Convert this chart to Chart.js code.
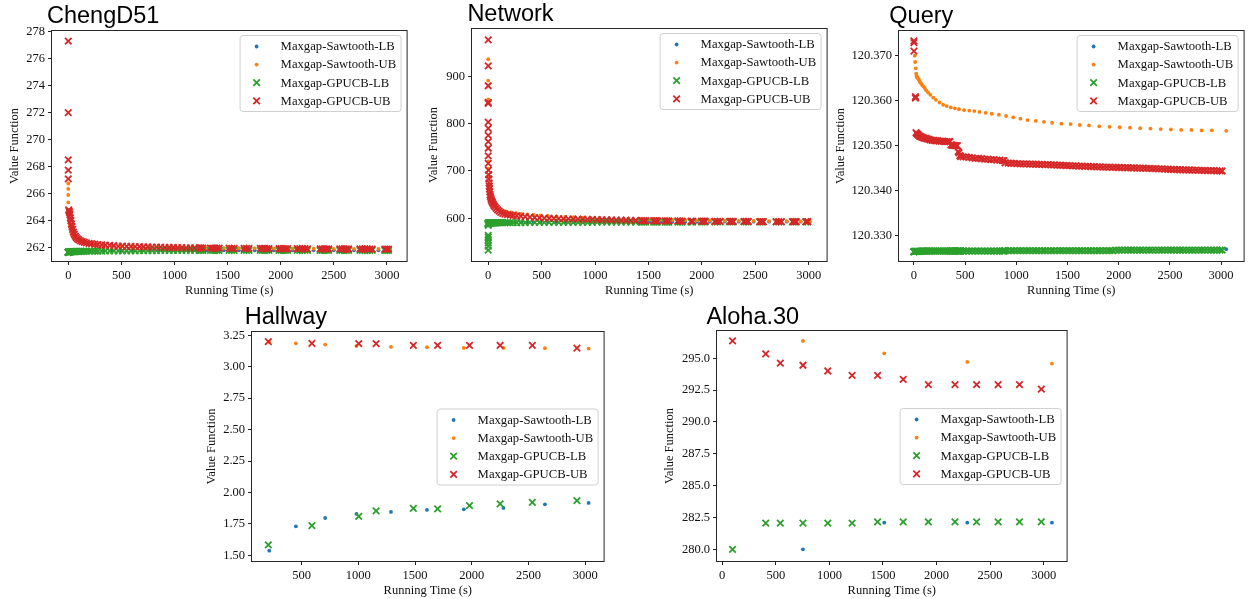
<!DOCTYPE html>
<html>
<head>
<meta charset="utf-8">
<script src="https://cdn.jsdelivr.net/npm/chart.js@4.4.1/dist/chart.umd.min.js"></script>
<style>
  html, body { margin: 0; padding: 0; background: #fff; overflow: hidden; }
  body { width: 1250px; height: 599px; position: relative; }
  .panel { position: absolute; }
</style>
</head>
<body>
<div class="panel" style="left:3px;top:0px;width:410px;height:302px"><canvas id="c1"></canvas></div>
<div class="panel" style="left:422px;top:0px;width:411px;height:302px"><canvas id="c2"></canvas></div>
<div class="panel" style="left:829px;top:0px;width:421px;height:302px"><canvas id="c3"></canvas></div>
<div class="panel" style="left:200px;top:301px;width:410px;height:301px"><canvas id="c4"></canvas></div>
<div class="panel" style="left:658px;top:300px;width:415px;height:302px"><canvas id="c5"></canvas></div>
<script>
// ---- series names ----
const seriesLabels = ['Maxgap-Sawtooth-LB', 'Maxgap-Sawtooth-UB', 'Maxgap-GPUCB-LB', 'Maxgap-GPUCB-UB'];

// ---- ChengD51 ----
const sawT1 = [0, 0, 0, 0, 0, 3, 6, 9, 12, 16, 22, 30, 42, 58, 80, 110, 150, 200, 260, 330,
    410, 500, 600, 700, 760, 850, 950, 1070, 1180, 1300, 1465, 1605, 1755, 1935, 2110, 2310, 2500, 2690, 2920, 3030];
const sawUB1 = [266.75, 266.35, 265.9, 265.35, 264.8, 264.45, 264.15, 263.95, 263.75, 263.55,
    263.3, 263.05, 262.85, 262.7, 262.57, 262.47, 262.38, 262.31, 262.25, 262.2,
    262.16, 262.12, 262.09, 262.06, 262.05, 262.03, 262.01, 262.0, 261.99, 261.98,
    261.97, 261.96, 261.95, 261.94, 261.93, 261.92, 261.91, 261.91, 261.9, 261.9];
const sawLB1 = [261.64, 261.65, 261.66, 261.67, 261.68, 261.69, 261.7, 261.7, 261.71, 261.71,
    261.72, 261.72, 261.73, 261.73, 261.74, 261.74, 261.75, 261.75, 261.76, 261.76,
    261.77, 261.77, 261.78, 261.78, 261.78, 261.79, 261.79, 261.79, 261.8, 261.8,
    261.8, 261.8, 261.8, 261.8, 261.8, 261.8, 261.8, 261.8, 261.8, 261.8];
const gpT1 = [0, 0, 0, 0, 0, 4, 8, 12, 16, 20, 25, 30, 36, 42, 49, 57, 66, 76, 87, 100,
    115, 132, 150, 170, 195, 220, 250, 280, 315, 350, 390, 430, 470, 510, 550, 590, 630, 670, 710, 750,
    790, 830, 870, 910, 950, 990, 1030, 1070, 1110, 1150, 1190,
    1233, 1250, 1267, 1339, 1359, 1379, 1400, 1420, 1515, 1538, 1561, 1655, 1678, 1701,
    1808, 1828, 1848, 1868, 1889, 1984, 2004, 2024, 2044, 2064, 2155, 2179, 2203, 2228, 2252,
    2371, 2391, 2411, 2431, 2451, 2556, 2577, 2598, 2618, 2639, 2746, 2769, 2792, 2815, 2838, 2861,
    2980, 2997, 3014];
const gpUB1 = [277.3, 272.0, 268.5, 267.75, 267.1, 264.8, 264.7, 264.6, 264.45, 264.2,
    264.0, 263.75, 263.55, 263.35, 263.15, 263.0, 262.85, 262.75, 262.65, 262.58,
    262.5, 262.45, 262.4, 262.36, 262.32, 262.29, 262.26, 262.23, 262.2, 262.18,
    262.16, 262.14, 262.12, 262.11, 262.1, 262.09, 262.08, 262.07, 262.06, 262.05,
    262.04, 262.03, 262.03, 262.02, 262.01, 262.01, 262.0, 262.0, 261.99, 261.99, 261.98,
    261.98, 261.98, 261.97, 261.97, 261.97, 261.97, 261.96, 261.96, 261.96, 261.95, 261.95, 261.95, 261.95, 261.94,
    261.94, 261.94, 261.94, 261.93, 261.93, 261.93, 261.93, 261.93, 261.92, 261.92, 261.92, 261.92, 261.92, 261.92, 261.91,
    261.91, 261.91, 261.91, 261.91, 261.91, 261.91, 261.9, 261.9, 261.9, 261.9, 261.9, 261.9, 261.9, 261.9, 261.89, 261.89,
    261.89, 261.89, 261.89];
const gpLB1 = [261.64, 261.65, 261.65, 261.66, 261.66, 261.67, 261.67, 261.68, 261.68, 261.69,
    261.69, 261.7, 261.7, 261.7, 261.71, 261.71, 261.71, 261.72, 261.72, 261.72,
    261.73, 261.73, 261.73, 261.74, 261.74, 261.74, 261.75, 261.75, 261.75, 261.76,
    261.76, 261.76, 261.76, 261.77, 261.77, 261.77, 261.77, 261.78, 261.78, 261.78,
    261.78, 261.78, 261.79, 261.79, 261.79, 261.79, 261.79, 261.8, 261.8, 261.8, 261.8,
    261.8, 261.8, 261.8, 261.8, 261.8, 261.8, 261.8, 261.8, 261.8, 261.8, 261.8, 261.8, 261.8, 261.8,
    261.8, 261.8, 261.8, 261.8, 261.8, 261.8, 261.8, 261.8, 261.8, 261.8, 261.8, 261.8, 261.8, 261.8, 261.8,
    261.8, 261.8, 261.8, 261.8, 261.8, 261.8, 261.8, 261.8, 261.8, 261.8, 261.8, 261.8, 261.8, 261.8, 261.8, 261.8,
    261.8, 261.8, 261.8];
const yTicks1 = [262, 264, 266, 268, 270, 272, 274, 276, 278];

// ---- Network ----
const sawT2 = [0, 0, 0, 1, 2, 5, 9, 14, 20, 28, 38, 50, 65, 85, 110, 140, 175, 215, 260, 310,
    365, 425, 490, 560, 640, 720, 800, 880, 960, 1040, 1130, 1220, 1310, 1405,
    1510, 1620, 1725, 1845, 1955, 2075, 2215, 2345, 2485, 2630, 2795, 2925, 3010];
const sawUB2 = [936, 891, 851, 720, 705, 688, 672, 660, 650, 643,
    637, 632, 627, 622, 618, 615, 614, 612.5, 611, 609.5,
    608, 607, 606, 605, 604, 603, 602.2, 601.5, 600.8, 600.2,
    599.6, 599, 598.5, 598, 597.5, 597, 596.6, 596.2, 595.8, 595.4,
    595, 594.7, 594.4, 594.1, 593.9, 593.7, 593.5];
const sawLB2 = [585, 587, 588.5, 589, 589.5, 589.8, 590, 590.2, 590.4, 590.6,
    590.8, 591, 591.2, 591.3, 591.4, 591.5, 591.6, 591.7, 591.8, 591.9,
    592, 592, 592.1, 592.1, 592.2, 592.2, 592.3, 592.3, 592.4, 592.4,
    592.5, 592.5, 592.5, 592.6, 592.6, 592.6, 592.7, 592.7, 592.7, 592.8,
    592.8, 592.8, 592.8, 592.9, 592.9, 592.9, 592.9];
const gpT2 = [0, 0, 0, 0, 0, 0, 0, 0, 0, 0, 0, 0,
    2, 4, 6, 8, 10, 12, 15, 18, 21, 25, 29, 34, 40, 47, 55, 64, 75, 88, 102, 118,
    136, 156, 180, 206, 235, 268, 305, 345, 390, 435, 480, 525, 570, 615, 660, 705, 750, 795, 840, 885,
    930, 975, 1020, 1065, 1110, 1155, 1200, 1245, 1290, 1335, 1380,
    1440, 1457, 1473, 1550, 1567, 1583, 1657, 1674, 1690, 1775, 1795, 1815, 1899, 1913,
    1998, 2015, 2031, 2122, 2146, 2171, 2261, 2278, 2294, 2395, 2415, 2434,
    2542, 2559, 2575, 2696, 2720, 2744, 2850, 2867, 2883, 2974, 2991];
const gpUB2 = [977, 922, 880, 845, 843, 803, 790, 775, 762, 748, 732, 716,
    702, 692, 683, 675, 668, 662, 656, 650, 646, 642, 639, 636, 633, 630, 627, 624, 621, 618, 615, 612.5,
    610.5, 609, 608, 607, 606, 605, 604.5, 603.5, 602.5, 601.5, 601, 600.5, 600, 599.7, 599.3, 599, 598.7, 598.4, 598.2, 598,
    597.7, 597.5, 597.2, 597, 596.8, 596.5, 596.3, 596.1, 595.9, 595.7, 595.5,
    595.3, 595.2, 595.1, 595.0, 594.9, 594.8, 594.7, 594.6, 594.5, 594.4, 594.3, 594.2, 594.1, 594.0,
    593.9, 593.9, 593.8, 593.7, 593.7, 593.6, 593.5, 593.5, 593.4, 593.4, 593.3, 593.3,
    593.2, 593.2, 593.1, 593.1, 593.0, 593.0, 592.9, 592.9, 592.9, 592.8, 592.8];
const gpLB2 = [533, 541, 548, 555, 560, 564, 585, 587, 588, 589, 589.5, 590,
    589.6, 589.7, 589.8, 589.9, 590, 590, 590.1, 590.1, 590.2, 590.2, 590.3, 590.3, 590.4, 590.4, 590.5, 590.5, 590.6, 590.6, 590.7, 590.7,
    590.8, 590.8, 590.9, 590.9, 591, 591, 591.1, 591.1, 591.2, 591.2, 591.3, 591.3, 591.3, 591.4, 591.4, 591.4, 591.5, 591.5, 591.5, 591.6,
    591.6, 591.6, 591.7, 591.7, 591.7, 591.8, 591.8, 591.8, 591.9, 591.9, 591.9,
    592, 592, 592, 592, 592, 592.1, 592.1, 592.1, 592.1, 592.1, 592.2, 592.2, 592.2, 592.2,
    592.2, 592.3, 592.3, 592.3, 592.3, 592.3, 592.4, 592.4, 592.4, 592.4, 592.4, 592.5,
    592.5, 592.5, 592.5, 592.5, 592.5, 592.6, 592.6, 592.6, 592.6, 592.6, 592.6];
const yTicks2 = [600, 700, 800, 900];

// ---- Query ----
const sawT3 = [8, 12, 18, 22, 25, 28, 32, 38, 45, 52, 60, 70, 80, 91, 105, 120, 139, 160, 188, 215,
    250, 285, 320, 360, 400, 440, 490, 540, 590, 640, 700, 760, 830, 900, 970, 1040, 1110, 1190, 1270, 1350,
    1440, 1530, 1620, 1710, 1810, 1910, 2010, 2110, 2210, 2310, 2410, 2510, 2610, 2710, 2810, 2910, 3050];
const sawUB3 = [120.3700, 120.3686, 120.3672, 120.3660, 120.3655, 120.3653, 120.3652, 120.3650, 120.3648, 120.3645,
    120.3641, 120.3638, 120.3635, 120.3632, 120.3628, 120.3623, 120.3618, 120.3613, 120.3607, 120.3602,
    120.3596, 120.3591, 120.3588, 120.3585, 120.3583, 120.3581, 120.3579, 120.3578, 120.3577, 120.3575,
    120.3573, 120.3571, 120.3569, 120.3566, 120.3563, 120.3560, 120.3557, 120.3555, 120.3553, 120.3551,
    120.3549, 120.3548, 120.3546, 120.3545, 120.3543, 120.3542, 120.3541, 120.3540, 120.3539, 120.3538,
    120.3537, 120.3536, 120.3535, 120.3535, 120.3534, 120.3534, 120.3533];
const sawLB3 = [120.3265, 120.3265, 120.3265, 120.3265, 120.3266, 120.3266, 120.3266, 120.3266, 120.3266, 120.3266,
    120.3266, 120.3266, 120.3266, 120.3266, 120.3266, 120.3266, 120.3266, 120.3266, 120.3266, 120.3266,
    120.3266, 120.3266, 120.3266, 120.3266, 120.3266, 120.3267, 120.3267, 120.3267, 120.3267, 120.3267,
    120.3267, 120.3267, 120.3267, 120.3267, 120.3267, 120.3267, 120.3267, 120.3267, 120.3267, 120.3267,
    120.3267, 120.3267, 120.3267, 120.3267, 120.3268, 120.3268, 120.3268, 120.3268, 120.3268, 120.3268,
    120.3268, 120.3268, 120.3268, 120.3268, 120.3268, 120.3268, 120.3270];
const gpT3 = [0, 0, 0, 15, 15, 20, 28, 36, 45, 55,
    65, 75, 88, 100, 115, 130, 145, 160, 178, 195,
    212, 230, 248, 266, 284, 302, 320, 338, 352, 362,
    372, 385, 398, 412, 424, 432, 440, 448, 456, 480,
    510, 540, 570, 600, 630, 660, 690, 720, 750, 780,
    810, 840, 865, 880,
    890, 920, 950, 980, 1010, 1040, 1070, 1100, 1130, 1160,
    1190, 1220, 1250, 1280, 1310, 1340, 1370, 1400, 1430, 1460,
    1490, 1520, 1550, 1580, 1610, 1640, 1670, 1700, 1730, 1760,
    1790, 1820, 1850, 1880, 1910, 1940, 1970, 2000, 2030, 2060,
    2090, 2120, 2150, 2180, 2210, 2240, 2270, 2300, 2330, 2360,
    2390, 2420, 2450, 2480, 2510, 2540, 2570, 2600, 2630, 2660,
    2690, 2720, 2750, 2780, 2810, 2840, 2870, 2900, 2930, 2960,
    2990, 3010];
const gpUB3 = [120.3733, 120.3729, 120.3710, 120.3609, 120.3606, 120.3529, 120.3527, 120.3525, 120.3523, 120.3521,
    120.3520, 120.3519, 120.3518, 120.3517, 120.3516, 120.3515, 120.3514, 120.3513, 120.3512, 120.3512,
    120.3511, 120.3511, 120.3510, 120.3510, 120.3510, 120.3509, 120.3509, 120.3509, 120.3509, 120.3502,
    120.3501, 120.3501, 120.3500, 120.3500, 120.3500, 120.3487, 120.3484, 120.3478, 120.3476, 120.3475,
    120.3475, 120.3474, 120.3473, 120.3472, 120.3472, 120.3471, 120.3470, 120.3470, 120.3469, 120.3469,
    120.3468, 120.3468, 120.3467, 120.3467,
    120.34620, 120.34615, 120.34610, 120.34605, 120.34600, 120.34598, 120.34596, 120.34594, 120.34592, 120.34590,
    120.34588, 120.34586, 120.34584, 120.34581, 120.34578, 120.34575, 120.34572, 120.34569, 120.34566, 120.34563,
    120.34560, 120.34557, 120.34554, 120.34551, 120.34548, 120.34545, 120.34542, 120.34540, 120.34537, 120.34534,
    120.34531, 120.34528, 120.34526, 120.34524, 120.34522, 120.34520, 120.34518, 120.34516, 120.34514, 120.34512,
    120.34510, 120.34508, 120.34506, 120.34504, 120.34502, 120.34500, 120.34498, 120.34495, 120.34492, 120.34489,
    120.34486, 120.34483, 120.34480, 120.34477, 120.34474, 120.34471, 120.34468, 120.34466, 120.34464, 120.34462,
    120.34460, 120.34458, 120.34456, 120.34454, 120.34452, 120.34450, 120.34448, 120.34446, 120.34444, 120.34442,
    120.34440, 120.34438];
const gpLB3 = [120.3264, 120.3264, 120.3265, 120.3265, 120.3265, 120.3265, 120.3265, 120.3265, 120.3265, 120.3265,
    120.3265, 120.3266, 120.3266, 120.3266, 120.3266, 120.3266, 120.3266, 120.3266, 120.3266, 120.3266,
    120.3266, 120.3266, 120.3266, 120.3266, 120.3266, 120.3266, 120.3266, 120.3266, 120.3266, 120.3266,
    120.3266, 120.3266, 120.3266, 120.3266, 120.3266, 120.3266, 120.3266, 120.3266, 120.3266, 120.3266,
    120.3266, 120.3266, 120.3266, 120.3266, 120.3266, 120.3266, 120.3266, 120.3266, 120.3266, 120.3266,
    120.3266, 120.3266, 120.3266, 120.3266,
    120.3267, 120.3267, 120.3267, 120.3267, 120.3267, 120.3267, 120.3267, 120.3267, 120.3267, 120.3267,
    120.3267, 120.3267, 120.3267, 120.3267, 120.3267, 120.3267, 120.3267, 120.3267, 120.3267, 120.3267,
    120.3267, 120.3267, 120.3267, 120.3267, 120.3267, 120.3267, 120.3267, 120.3267, 120.3267, 120.3267,
    120.3267, 120.3267, 120.3267, 120.3267, 120.3267, 120.3267, 120.3268, 120.3268, 120.3268, 120.3268,
    120.3268, 120.3268, 120.3268, 120.3268, 120.3268, 120.3268, 120.3268, 120.3268, 120.3268, 120.3268,
    120.3268, 120.3268, 120.3268, 120.3268, 120.3268, 120.3268, 120.3268, 120.3268, 120.3268, 120.3268,
    120.3268, 120.3268, 120.3268, 120.3268, 120.3268, 120.3268, 120.3268, 120.3268, 120.3268, 120.3268,
    120.3268, 120.3268];
const yTicks3 = [120.33, 120.34, 120.35, 120.36, 120.37];

// ---- Hallway ----
const sawT4 = [215, 450, 708, 984, 1288, 1605, 1930, 2279, 2645, 3030];
const sawUB4 = [3.197, 3.186, 3.176, 3.165, 3.157, 3.155, 3.149, 3.149, 3.147, 3.144];
const sawLB4 = [1.537, 1.731, 1.797, 1.829, 1.845, 1.861, 1.866, 1.877, 1.906, 1.917];
const gpT4 = [207, 591, 1004, 1157, 1485, 1699, 1980, 2250, 2534, 2927];
const gpUB4 = [3.200, 3.186, 3.184, 3.184, 3.170, 3.170, 3.170, 3.170, 3.170, 3.147];
const gpLB4 = [1.583, 1.736, 1.810, 1.853, 1.874, 1.869, 1.895, 1.909, 1.922, 1.935];
const yTicks4 = [1.5, 1.75, 2.0, 2.25, 2.5, 2.75, 3.0, 3.25];
const xTicks4 = [500, 1000, 1500, 2000, 2500, 3000];

// ---- Aloha.30 ----
const sawT5 = [753, 1512, 2287, 3077];
const sawUB5 = [296.36, 295.39, 294.71, 294.58];
const sawLB5 = [280.0, 282.09, 282.09, 282.09];
const gpT5 = [96, 406, 542, 753, 985, 1212, 1450, 1689, 1924, 2172, 2374, 2575, 2774, 2978];
const gpUB5 = [296.36, 295.34, 294.61, 294.45, 294.0, 293.66, 293.66, 293.35, 292.93, 292.93, 292.93, 292.93, 292.93, 292.57];
const gpLB5 = [280.0, 282.05, 282.05, 282.05, 282.05, 282.05, 282.15, 282.15, 282.15, 282.15, 282.15, 282.15, 282.15, 282.15];
const yTicks5 = [280, 282.5, 285, 287.5, 290, 292.5, 295];

const xTicks = [0, 500, 1000, 1500, 2000, 2500, 3000];

// matplotlib tab10
const BLUE = '#1f77b4', ORANGE = '#ff7f0e', GREEN = '#2ca02c', RED = '#d62728';
const SERIF = '"Liberation Serif", "Times New Roman", Times, serif';

Chart.defaults.font.family = SERIF;
Chart.defaults.font.size = 12.5;
Chart.defaults.color = '#111';

function pairs(xs, ys)
{
    return xs.map((x, i) => ({ x: x, y: ys[i] }));
}

function dotSet(label, color, data, order)
{
    return {
        label, data, order,
        pointStyle: 'circle', pointRadius: 1.9, pointBorderWidth: 0,
        pointBackgroundColor: color, pointBorderColor: color,
        backgroundColor: color, borderColor: color
    };
}

function crossSet(label, color, data, order)
{
    return {
        label, data, order,
        pointStyle: 'crossRot', pointRadius: 4.6, pointBorderWidth: 1.8,
        pointBackgroundColor: color, pointBorderColor: color,
        backgroundColor: color, borderColor: color
    };
}

// box around the plot area, like the matplotlib spines
const framePlugin = {
    id: 'frame',
    afterDatasetsDraw(chart)
    {
        const { ctx, chartArea: a } = chart;
        ctx.save();
        ctx.strokeStyle = '#262626';
        ctx.lineWidth = 1;
        ctx.strokeRect(a.left - 0.5, a.top - 0.5, a.right - a.left + 1, a.bottom - a.top + 1);
        ctx.restore();
    }
};

// panel title drawn a little left of the plot area
const panelTitle = {
    id: 'panelTitle',
    afterDraw(chart, args, opts)
    {
        const { ctx, chartArea: a } = chart;
        ctx.save();
        ctx.font = '23.5px "Liberation Sans", Arial, sans-serif';
        ctx.fillStyle = '#000';
        ctx.textBaseline = 'alphabetic';
        ctx.textAlign = 'left';
        ctx.fillText(opts.text, a.left + opts.dx, a.top - opts.dy);
        ctx.restore();
    }
};

// legend inside the axes (upper right or center right)
const insideLegend = {
    id: 'insideLegend',
    afterDraw(chart, args, opts)
    {
        const { ctx, chartArea: a } = chart;
        const w = 161, h = 76, rowH = 18.1;
        const x = a.right - 6 - w;
        const y = opts.place === 'center' ? (a.top + a.bottom) / 2 - h / 2 : a.top + 4;
        ctx.save();
        ctx.beginPath();
        ctx.roundRect(x + 0.5, y + 0.5, w, h, 3);
        ctx.fillStyle = 'rgba(255,255,255,0.85)';
        ctx.fill();
        ctx.strokeStyle = '#d0d0d0';
        ctx.lineWidth = 1;
        ctx.stroke();

        chart.data.datasets.forEach((ds, i) =>
        {
            const cy = y + 11.5 + i * rowH;
            ctx.fillStyle = ds.pointBackgroundColor;
            ctx.strokeStyle = ds.pointBorderColor;
            ctx.lineWidth = ds.pointBorderWidth;
            Chart.helpers.drawPoint(ctx, {
                pointStyle: ds.pointStyle,
                radius: ds.pointRadius,
                borderWidth: ds.pointBorderWidth,
                rotation: 0
            }, x + 17, cy);
            ctx.fillStyle = '#111';
            ctx.font = '12.7px ' + SERIF;
            ctx.textBaseline = 'middle';
            ctx.textAlign = 'left';
            ctx.fillText(ds.label, x + 41, cy + 0.5);
        });
        ctx.restore();
    }
};

function buildPanel(canvasId, cfg)
{
    new Chart(document.getElementById(canvasId), {
        type: 'scatter',
        data: {
            datasets: [
                dotSet(seriesLabels[0], BLUE, pairs(cfg.sawT, cfg.sawLB), 4),
                dotSet(seriesLabels[1], ORANGE, pairs(cfg.sawT, cfg.sawUB), 3),
                crossSet(seriesLabels[2], GREEN, pairs(cfg.gpT, cfg.gpLB), 2),
                crossSet(seriesLabels[3], RED, pairs(cfg.gpT, cfg.gpUB), 1)
            ]
        },
        options: {
            responsive: true,
            maintainAspectRatio: false,
            animation: false,
            events: [],
            layout: { padding: { left: 0, top: cfg.padTop, right: 5, bottom: 0 } },
            scales: {
                x: {
                    type: 'linear',
                    min: cfg.xMin, max: cfg.xMax,
                    afterBuildTicks: axis => { axis.ticks = cfg.xTicks.map(v => ({ value: v })); },
                    afterFit: axis => { axis.height = 41; },
                    ticks: { autoSkip: false, maxRotation: 0, padding: 3, callback: v => String(v) },
                    grid: { drawOnChartArea: false, drawTicks: true, tickLength: 4, tickColor: '#262626', tickWidth: 1 },
                    border: { display: false },
                    title: { display: true, text: 'Running Time (s)', padding: { top: 4, bottom: 4 } }
                },
                y: {
                    type: 'linear',
                    min: cfg.yMin, max: cfg.yMax,
                    afterBuildTicks: axis => { axis.ticks = cfg.yTicks.map(v => ({ value: v })); },
                    afterFit: axis => { axis.width = cfg.yw; },
                    ticks: { autoSkip: false, padding: 3, callback: v => v.toFixed(cfg.dec) },
                    grid: { drawOnChartArea: false, drawTicks: true, tickLength: 4, tickColor: '#262626', tickWidth: 1 },
                    border: { display: false },
                    title: { display: true, text: 'Value Function', padding: { top: 4, bottom: 4 } }
                }
            },
            plugins: {
                legend: { display: false },
                tooltip: { enabled: false },
                panelTitle: { text: cfg.title, dx: cfg.tdx, dy: cfg.tdy },
                insideLegend: { place: cfg.legend }
            }
        },
        plugins: [framePlugin, panelTitle, insideLegend]
    });
}

buildPanel('c1', {
    title: 'ChengD51', tdx: -5, tdy: 8.3, legend: 'upper', padTop: 31, yw: 49,
    sawT: sawT1, sawLB: sawLB1, sawUB: sawUB1, gpT: gpT1, gpLB: gpLB1, gpUB: gpUB1,
    xMin: -153, xMax: 3185, yMin: 261.01, yMax: 278.05, xTicks: xTicks, yTicks: yTicks1, dec: 0
});
buildPanel('c2', {
    title: 'Network', tdx: -4.6, tdy: 7.6, legend: 'upper', padTop: 29, yw: 50,
    sawT: sawT2, sawLB: sawLB2, sawUB: sawUB2, gpT: gpT2, gpLB: gpLB2, gpUB: gpUB2,
    xMin: -152, xMax: 3168, yMin: 509.8, yMax: 999.9, xTicks: xTicks, yTicks: yTicks2, dec: 0
});
buildPanel('c3', {
    title: 'Query', tdx: -9.7, tdy: 8.3, legend: 'upper', padTop: 31, yw: 70,
    sawT: sawT3, sawLB: sawLB3, sawUB: sawUB3, gpT: gpT3, gpLB: gpLB3, gpUB: gpUB3,
    xMin: -146, xMax: 3220, yMin: 120.32438, yMax: 120.37549, xTicks: xTicks, yTicks: yTicks3, dec: 3
});
buildPanel('c4', {
    title: 'Hallway', tdx: -7.3, tdy: 8.4, legend: 'center', padTop: 31, yw: 52,
    sawT: sawT4, sawLB: sawLB4, sawUB: sawUB4, gpT: gpT4, gpLB: gpLB4, gpUB: gpUB4,
    xMin: 63, xMax: 3162, yMin: 1.455, yMax: 3.276, xTicks: xTicks4, yTicks: yTicks4, dec: 2
});
buildPanel('c5', {
    title: 'Aloha.30', tdx: -10.6, tdy: 7, legend: 'center', padTop: 31, yw: 59,
    sawT: sawT5, sawLB: sawLB5, sawUB: sawUB5, gpT: gpT5, gpLB: gpLB5, gpUB: gpUB5,
    xMin: -49, xMax: 3214, yMin: 279.08, yMax: 297.14, xTicks: xTicks, yTicks: yTicks5, dec: 1
});
</script>
</body>
</html>
